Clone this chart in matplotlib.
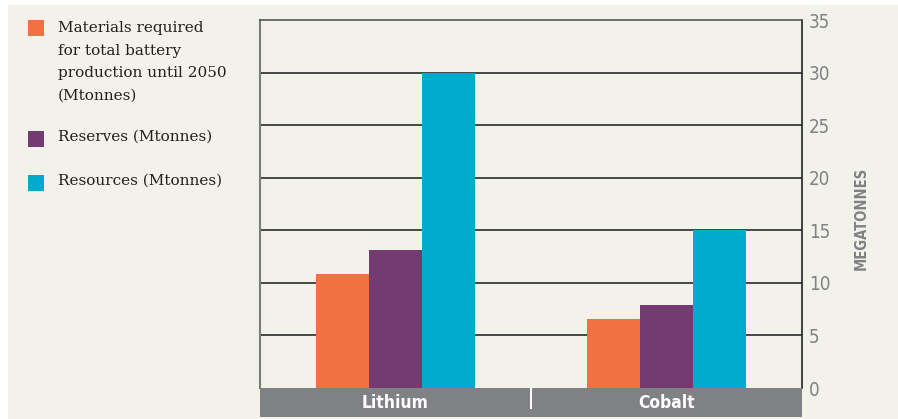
import matplotlib.pyplot as plt
from matplotlib.patches import Rectangle

# Battery material supply vs. demand (megatonnes)
metals = ['Lithium', 'Cobalt']
required = [10.8, 6.6]
reserves = [13.1, 7.9]
resources = [30.0, 15.0]
series_names = ['Materials required\nfor total battery\nproduction until 2050\n(Mtonnes)',
                'Reserves (Mtonnes)', 'Resources (Mtonnes)']
colors = ['#f37043', '#743a72', '#00abcc']
yticks = [0, 5, 10, 15, 20, 25, 30, 35]

bg = '#f2f1ea'
grey = '#808184'

fig = plt.figure(figsize=(8.98, 4.19), dpi=100)
fig.patch.set_facecolor('white')
fig.patches.append(Rectangle((8 / 898, 0), 1, 1 - 5 / 419, transform=fig.transFigure,
                             facecolor=bg, edgecolor='none', zorder=-10))

ax = fig.add_axes([260 / 898, 1 - 388 / 419, 542 / 898, 368 / 419])
ax.set_facecolor(bg)

width = 0.196
pos = [0.5, 1.5]
for k, vals in enumerate([required, reserves, resources]):
    ax.bar([p + (k - 1) * width for p in pos], vals, width, color=colors[k], zorder=3)

ax.set_xlim(0, 2)
ax.set_ylim(0, 35)
ax.set_xticks([])
ax.yaxis.tick_right()
ax.set_yticks(yticks)
ax.set_yticklabels([str(t) for t in yticks], fontsize=13.5, color=grey, fontstretch='condensed')
ax.tick_params(axis='y', length=0, pad=5)
for t in yticks[1:-1]:
    ax.axhline(t, color='#2a2a2a', lw=1.2, zorder=1)

ax.spines['left'].set_color('#7a7a7a')
ax.spines['left'].set_linewidth(1.5)
ax.spines['top'].set_color('#555555')
ax.spines['top'].set_linewidth(1.2)
ax.spines['right'].set_color('#222222')
ax.spines['right'].set_linewidth(1.2)
ax.spines['bottom'].set_visible(False)

ax.yaxis.set_label_position('right')
ax.set_ylabel('MEGATONNES', fontsize=10.5, color=grey,
              fontstretch='condensed', fontweight='semibold')
ax.yaxis.set_label_coords(1.096, 0.462)

# grey category band under the plot
band = fig.add_axes([260 / 898, 2 / 419, 542 / 898, 29 / 419])
band.set_facecolor(grey)
band.set_xlim(0, 2)
band.set_ylim(0, 1)
band.set_xticks([])
band.set_yticks([])
for s in band.spines.values():
    s.set_visible(False)
band.plot([1, 1], [0.3, 1], color='white', lw=1.5)
for p, name in zip(pos, metals):
    band.text(p, 0.5, name, ha='center', va='center', color='white',
              fontsize=12.5, fontweight='bold', fontstretch='condensed')

# legend on the left
legend_y = [28, 139, 183]
for k, name in enumerate(series_names):
    y = 1 - legend_y[k] / 419
    fig.patches.append(Rectangle((28 / 898, y - 8 / 419), 16 / 898, 16 / 419,
                                 transform=fig.transFigure, facecolor=colors[k],
                                 edgecolor='none'))
    fig.text(58 / 898, y + (7 if k == 0 else 9) / 419, name, ha='left', va='top',
             fontsize=11, family='DejaVu Serif', color='#231f20', linespacing=1.78)

fig.savefig('out.png', dpi=100, facecolor=fig.get_facecolor())
